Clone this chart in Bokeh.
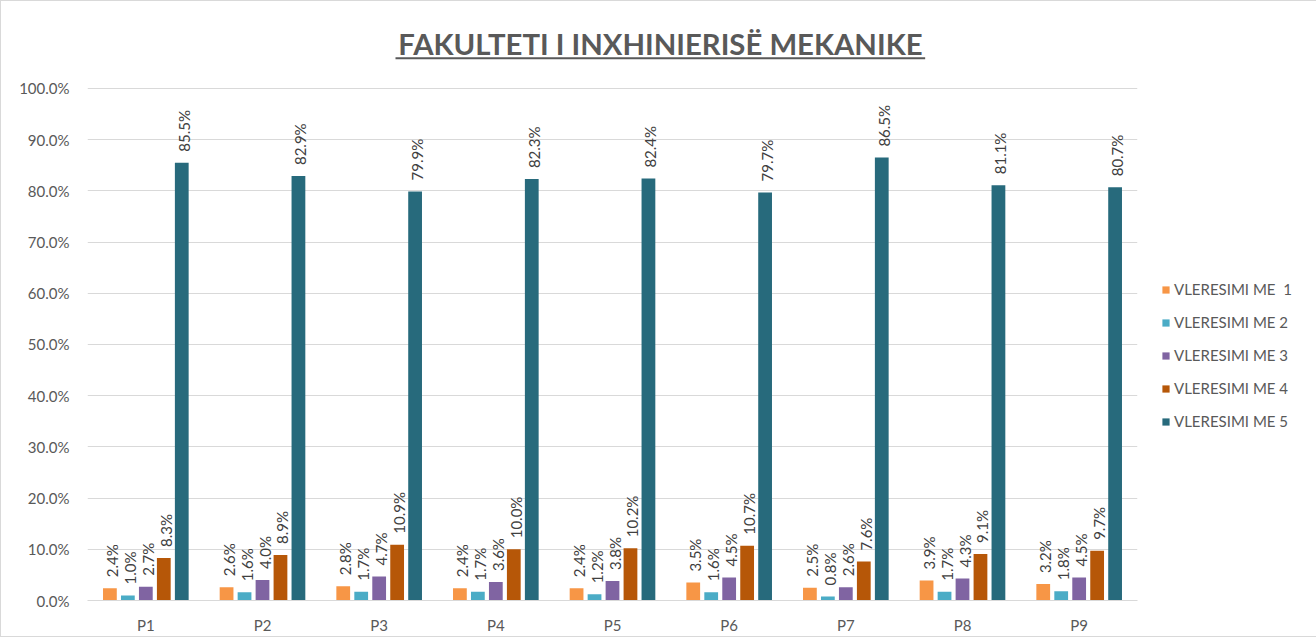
import math
from bokeh.plotting import figure
from bokeh.models import (FactorRange, Range1d, FixedTicker, Legend, LegendItem,
                          ColumnDataSource, PrintfTickFormatter)
from bokeh.transform import dodge
from bokeh.core.properties import value
from bokeh.embed import file_html
from bokeh.resources import INLINE

# ---- data ----
categories = ["P1", "P2", "P3", "P4", "P5", "P6", "P7", "P8", "P9"]
series_names = ["VLERESIMI ME  1", "VLERESIMI ME 2", "VLERESIMI ME 3",
                "VLERESIMI ME 4", "VLERESIMI ME 5"]
v1 = [2.4, 2.6, 2.8, 2.4, 2.4, 3.5, 2.5, 3.9, 3.2]
v2 = [1.0, 1.6, 1.7, 1.7, 1.2, 1.6, 0.8, 1.7, 1.8]
v3 = [2.7, 4.0, 4.7, 3.6, 3.8, 4.5, 2.6, 4.3, 4.5]
v4 = [8.3, 8.9, 10.9, 10.0, 10.2, 10.7, 7.6, 9.1, 9.7]
v5 = [85.5, 82.9, 79.9, 82.3, 82.4, 79.7, 86.5, 81.1, 80.7]
y_ticks = [0, 10, 20, 30, 40, 50, 60, 70, 80, 90, 100]
title_text = "FAKULTETI I INXHINIERISË MEKANIKE"

series = [v1, v2, v3, v4, v5]
colors = ["#F79646", "#4BACC6", "#8064A2", "#B65708", "#276A7C"]
offsets = [-0.308, -0.154, 0.0, 0.154, 0.308]

FONT = "Lato"
GRAY = "#595959"

p = figure(x_range=FactorRange(*categories), y_range=Range1d(0, 114.453),
           frame_width=1050, frame_height=586,
           min_border_left=86, min_border_right=168, min_border_top=13, min_border_bottom=31,
           output_backend="svg", toolbar_location=None)
p.styles = {"border": "1px solid #D9D9D9"}
p.outline_line_color = None
p.background_fill_color = "white"

ticker = FixedTicker(ticks=y_ticks)
p.yaxis.ticker = ticker
p.yaxis.formatter = PrintfTickFormatter(format="%.1f%%")
p.yaxis.axis_line_color = None
p.yaxis.major_tick_line_color = None
p.yaxis.minor_tick_line_color = None
p.yaxis.major_label_standoff = 12
p.yaxis.major_label_text_font = FONT
p.yaxis.major_label_text_font_size = "15px"
p.yaxis.major_label_text_color = GRAY

p.xaxis.axis_line_color = "#D9D9D9"
p.xaxis.major_tick_line_color = None
p.xaxis.minor_tick_line_color = None
p.xaxis.major_label_standoff = 9
p.xaxis.major_label_text_font = FONT
p.xaxis.major_label_text_font_size = "15px"
p.xaxis.major_label_text_color = GRAY

p.xgrid.grid_line_color = None
p.ygrid.ticker = ticker
p.ygrid.grid_line_color = "#D9D9D9"

items = []
for name, vals, col, off in zip(series_names, series, colors, offsets):
    src = ColumnDataSource(dict(x=categories, y=vals, txt=[f"{v:.1f}%" for v in vals]))
    r = p.vbar(x=dodge("x", off, range=p.x_range), top="y", width=0.118, source=src,
               fill_color=col, line_color=None)
    p.text(x=dodge("x", off, range=p.x_range), y="y", text="txt", source=src,
           angle=math.pi / 2, text_align="left", text_baseline="middle",
           x_offset=2, y_offset=-11, text_font=value(FONT), text_font_size="15px",
           text_color="#404040")
    items.append(LegendItem(label=name, renderers=[r]))

# title with underline
p.text(x=[4.911], y=[108.8], text=[title_text], text_align="center", text_baseline="middle",
       text_font=value(FONT), text_font_style="bold", text_font_size="29.3px", text_color=GRAY)
p.segment(x0=[2.64], x1=[7.18], y0=[105.9], y1=[105.9], line_color=GRAY, line_width=2)

legend = Legend(items=items, location=(24, 170), glyph_width=9, glyph_height=9,
                label_height=18, spacing=15, label_standoff=4, padding=0, margin=0,
                border_line_color=None, background_fill_alpha=0,
                label_text_font=FONT, label_text_font_size="15px", label_text_color=GRAY)
p.add_layout(legend, "right")

open("out.html", "w").write(file_html(p, INLINE))
